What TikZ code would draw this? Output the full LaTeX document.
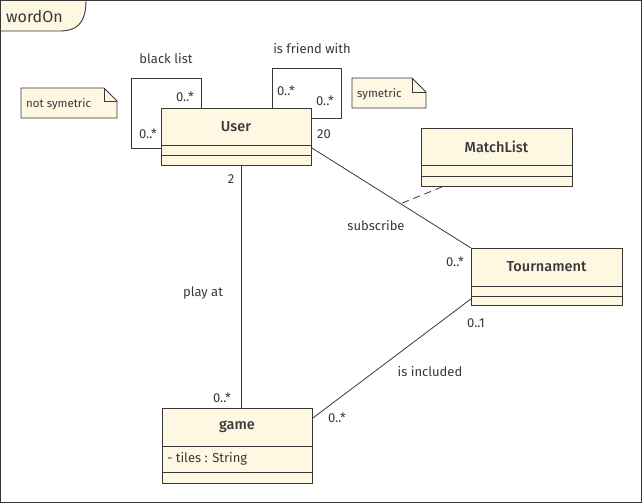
\documentclass[tikz,border=0pt]{standalone}
\usepackage{fontspec}
\setmainfont{Fira Sans}
\newfontfamily\medfont{Fira Sans Medium}
\usetikzlibrary{calc}
\definecolor{cream}{HTML}{FEF7E2}
\definecolor{ink}{HTML}{383838}
\tikzset{
  every node/.style={text=ink, font=\fontsize{13}{15}\selectfont, inner sep=0pt},
  lbl/.style={font=\fontsize{13}{15}\selectfont},
  notetxt/.style={font=\fontsize{11.5}{13}\selectfont},
  clsname/.style={font=\medfont\fontsize{14.5}{16}\selectfont},
  cls/.style={draw=ink, fill=cream, line width=0.9pt, anchor=north west, minimum width=#1, minimum height=0pt},
  comp/.style={draw=ink, line width=0.9pt},
  assoc/.style={draw=ink, line width=0.8pt},
  notebox/.style={draw=ink, fill=cream, line width=0.8pt},
}
\begin{document}
\begin{tikzpicture}[x=1pt,y=-1pt]
\useasboundingbox (0,0) rectangle (642,503);
% frame
\draw[ink, line width=0.9pt] (0.5,0.5) rectangle (641.5,502.5);
\draw[ink, fill=cream, line width=0.9pt] (0.5,0.5) -- (86,0.5) .. controls (86,24) and (76,31) .. (60,31) -- (0.5,31) -- cycle;
\node[font=\fontsize{16}{18}\selectfont, anchor=west] (title) at (6,17) {wordOn};

% notes
\draw[notebox] (21,88) -- (104,88) -- (117,101) -- (117,118) -- (21,118) -- cycle;
\draw[ink, line width=0.8pt] (104,88) -- (104,101) -- (117,101);
\node[notetxt, anchor=west] (n1) at (26,104) {not symetric};
\draw[notebox] (352,78) -- (412,78) -- (426,92) -- (426,108) -- (352,108) -- cycle;
\draw[ink, line width=0.8pt] (412,78) -- (412,92) -- (426,92);
\node[notetxt, anchor=west] (n2) at (357,94) {symetric};

% classes
\node[cls=150pt, minimum height=57pt] (user) at (161,108) {};
\draw[comp] (161,145) -- (311,145) (161,155) -- (311,155);
\node[clsname] (userN) at (236,127) {User};

\node[cls=151pt, minimum height=58pt] (ml) at (421,128) {};
\draw[comp] (421,165) -- (572,165) (421,176) -- (572,176);
\node[clsname] (mlN) at (496.5,147) {MatchList};

\node[cls=151pt, minimum height=57pt] (tour) at (471,248) {};
\draw[comp] (471,286) -- (622,286) (471,296) -- (622,296);
\node[clsname] (tourN) at (546.5,267) {Tournament};

\node[cls=150pt, minimum height=75pt] (game) at (162,408) {};
\draw[comp] (162,446) -- (312,446) (162,472) -- (312,472);
\node[clsname] (gameN) at (237,427) {game};
\node[lbl, anchor=west] (gameA) at (167,459) {- tiles : String};

% self loops
\draw[assoc] ([xshift=40pt]user.north west) -- (201,78) -- (131,78) -- (131,148) -- ([yshift=-40pt]user.north west);
\draw[assoc] ([xshift=111pt]user.north west) -- (272,68) -- (341,68) -- (341,118) -- ([yshift=-10pt]user.north east);

% associations
\coordinate (ux) at (241.5,0);
\draw[assoc] (user.south -| ux) -- (game.north -| ux);
\draw[assoc] ([yshift=-40pt]user.north east) -- coordinate[pos=0.557] (mid) (tour.north west);
\draw[assoc, dashed, dash pattern=on 7pt off 5pt] ([xshift=21pt]ml.south west) -- (mid);
\draw[assoc] ([yshift=7pt]tour.south west) -- ([yshift=-10pt]game.north east);

% labels
\node[lbl] (l1) at (166,59) {black list};
\node[lbl] (l2) at (312,49) {is friend with};
\node[lbl] (m1) at (185,97) {0..*};
\node[lbl] (m2) at (148,134) {0..*};
\node[lbl] (m3) at (286,91) {0..*};
\node[lbl] (m4) at (325,101) {0..*};
\node[lbl] (m5) at (324,134) {20};
\node[lbl] (m6) at (231,179) {2};
\node[lbl] (m7) at (222,398) {0..*};
\node[lbl] (l3) at (203,293) {play at};
\node[lbl] (l4) at (376,226) {subscribe};
\node[lbl] (m8) at (455,262) {0..*};
\node[lbl] (m9) at (476,323) {0..1};
\node[lbl] (m10) at (337,418) {0..*};
\node[lbl] (l5) at (430,372) {is included};
\end{tikzpicture}
\end{document}
